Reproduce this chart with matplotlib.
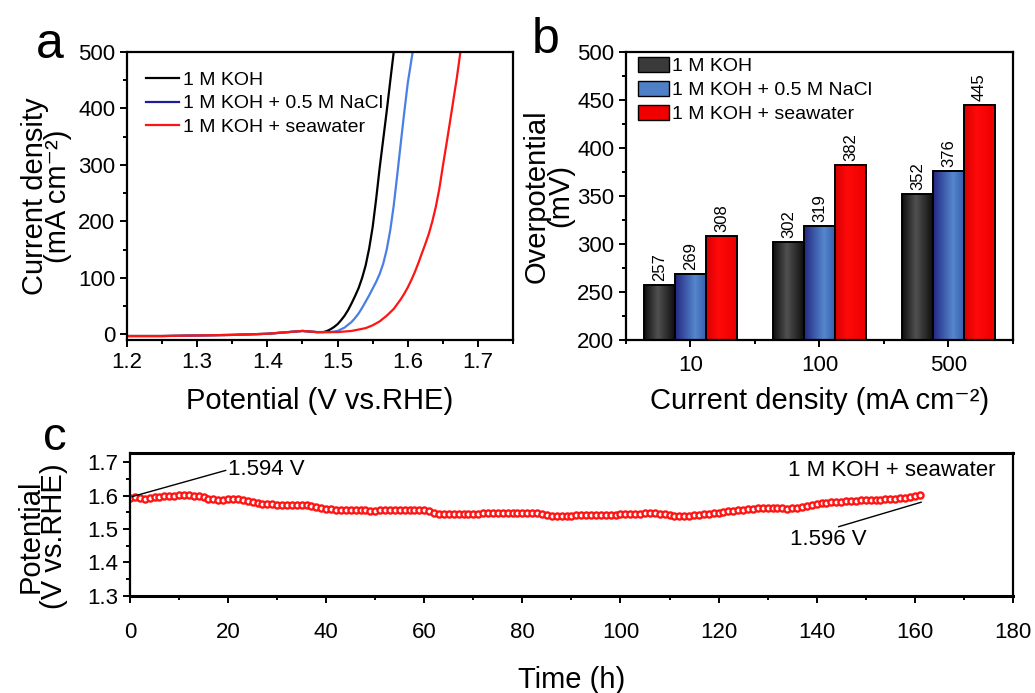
import numpy as np
import matplotlib.pyplot as plt
from matplotlib.lines import Line2D
from matplotlib.patches import Patch
from matplotlib.ticker import MultipleLocator

plt.rcParams['font.family'] = ['Liberation Sans', 'DejaVu Sans']

# ---- panel a: LSV curves ----
base_E = [1.20, 1.25, 1.30, 1.35, 1.40, 1.42, 1.44, 1.45, 1.46, 1.47, 1.48]
base_j = [-3, -3, -2, -1, 1, 3, 5, 6, 5, 4, 4]
koh_E = base_E + [1.485, 1.49, 1.495, 1.50, 1.505, 1.51, 1.515, 1.52, 1.525, 1.53,
                  1.535, 1.54, 1.545, 1.55, 1.555, 1.56, 1.565, 1.57, 1.575, 1.58]
koh_j = base_j + [6, 9, 13, 18, 25, 33, 43, 55, 68, 82,
                  100, 122, 152, 190, 240, 295, 345, 395, 448, 500]
nacl_E = base_E + [1.49, 1.495, 1.50, 1.505, 1.51, 1.515, 1.52, 1.525, 1.53, 1.535,
                   1.54, 1.545, 1.55, 1.555, 1.56, 1.565, 1.57, 1.575, 1.58, 1.585,
                   1.59, 1.595, 1.60, 1.607]
nacl_j = base_j + [4, 5, 6, 9, 12, 17, 22, 29, 37, 47,
                   58, 69, 81, 93, 107, 125, 150, 184, 228, 282,
                   338, 393, 445, 500]
sea_E = base_E + [1.50, 1.52, 1.54, 1.55, 1.56, 1.57, 1.58, 1.59, 1.595, 1.60,
                  1.605, 1.61, 1.615, 1.62, 1.625, 1.63, 1.635, 1.64, 1.645, 1.65,
                  1.655, 1.66, 1.665, 1.67, 1.675]
sea_j = base_j + [4, 6, 11, 16, 23, 33, 45, 62, 72, 83,
                  96, 110, 126, 143, 160, 178, 200, 226, 258, 298,
                  336, 375, 415, 455, 500]

# ---- panel b: overpotentials ----
densities = ['10', '100', '500']
eta_koh = [257, 302, 352]
eta_nacl = [269, 319, 376]
eta_sea = [308, 382, 445]

# ---- panel c: stability (one reading per hour) ----
stab_v = [
    1.594, 1.596, 1.593, 1.590, 1.592, 1.595, 1.597, 1.599, 1.600, 1.600,
    1.601, 1.601, 1.601, 1.600, 1.598, 1.595, 1.591, 1.589, 1.588, 1.588,
    1.589, 1.590, 1.590, 1.588, 1.584, 1.580, 1.578, 1.576, 1.575, 1.574,
    1.573, 1.573, 1.573, 1.573, 1.572, 1.572, 1.571, 1.569, 1.566, 1.563,
    1.561, 1.559, 1.558, 1.557, 1.557, 1.557, 1.557, 1.556, 1.556, 1.555,
    1.555, 1.556, 1.558, 1.558, 1.558, 1.558, 1.558, 1.558, 1.557, 1.557,
    1.556, 1.553, 1.549, 1.546, 1.545, 1.545, 1.545, 1.545, 1.545, 1.546,
    1.546, 1.546, 1.547, 1.547, 1.547, 1.548, 1.548, 1.548, 1.548, 1.548,
    1.548, 1.548, 1.548, 1.547, 1.545, 1.542, 1.540, 1.539, 1.539, 1.540,
    1.540, 1.541, 1.542, 1.543, 1.543, 1.543, 1.542, 1.542, 1.542, 1.543,
    1.544, 1.544, 1.545, 1.546, 1.546, 1.547, 1.547, 1.547, 1.546, 1.544,
    1.541, 1.540, 1.539, 1.539, 1.540, 1.541, 1.542, 1.544, 1.545, 1.547,
    1.549, 1.551, 1.553, 1.555, 1.557, 1.558, 1.560, 1.561, 1.562, 1.562,
    1.562, 1.562, 1.562, 1.562, 1.561, 1.562, 1.564, 1.567, 1.570, 1.573,
    1.576, 1.578, 1.579, 1.580, 1.581, 1.582, 1.583, 1.584, 1.585, 1.586,
    1.587, 1.587, 1.588, 1.588, 1.589, 1.590, 1.591, 1.592, 1.593, 1.595,
    1.598, 1.601,
]
stab_t = np.arange(len(stab_v))

RED = '#ff1414'
BLUE = '#4a7fe6'
TICK = 16
LABEL = 21

fig = plt.figure(figsize=(10.35, 6.93), dpi=100)
ax_a = fig.add_axes([0.1227, 0.5094, 0.373, 0.4156])
ax_b = fig.add_axes([0.6048, 0.5094, 0.3739, 0.4156])
ax_c = fig.add_axes([0.1256, 0.140, 0.853, 0.2063])

for ax in (ax_a, ax_b, ax_c):
    for s in ax.spines.values():
        s.set_linewidth(1.6)
    ax.tick_params(which='both', direction='out', width=1.4, top=False, right=False)
    ax.tick_params(which='major', length=5, labelsize=TICK)
    ax.tick_params(which='minor', length=3)

# a
ax_a.plot(koh_E, koh_j, color='black', lw=1.6)
ax_a.plot(nacl_E, nacl_j, color=BLUE, lw=1.6)
ax_a.plot(sea_E, sea_j, color=RED, lw=1.6)
ax_a.set_xlim(1.2, 1.75)
ax_a.set_ylim(-10, 500)
ax_a.xaxis.set_major_locator(MultipleLocator(0.1))
ax_a.xaxis.set_minor_locator(MultipleLocator(0.05))
ax_a.yaxis.set_major_locator(MultipleLocator(100))
ax_a.yaxis.set_minor_locator(MultipleLocator(50))
ax_a.set_xlabel('Potential (V vs.RHE)', fontsize=LABEL, labelpad=10)
ax_a.set_ylabel('Current density\n(mA cm⁻²)', fontsize=LABEL, linespacing=0.8, labelpad=4)
handles_a = [Line2D([], [], color='black', lw=1.6),
             Line2D([], [], color='#1c1c9c', lw=1.6),
             Line2D([], [], color=RED, lw=1.6)]
ax_a.legend(handles_a, ['1 M KOH', '1 M KOH + 0.5 M NaCl', '1 M KOH + seawater'],
            loc='upper left', frameon=False, fontsize=14, handlelength=1.7,
            handletextpad=0.2, labelspacing=0.3, borderaxespad=0.6)
fig.text(0.048, 0.935, 'a', fontsize=36, ha='center', va='center')


# b
def gradient(stops, n=64):
    pos = np.array([p for p, _ in stops])
    cols = np.array([c for _, c in stops], dtype=float) / 255
    xs = np.linspace(0, 1, n)
    rgb = np.stack([np.interp(xs, pos, cols[:, k]) for k in range(3)], axis=-1)
    return rgb[np.newaxis, :, :]


grad_black = gradient([(0, (15, 15, 15)), (0.45, (80, 80, 80)), (1, (15, 15, 15))])
grad_blue = gradient([(0, (35, 40, 130)), (0.65, (85, 135, 205)), (1, (55, 95, 175))])
grad_red = gradient([(0, (215, 0, 0)), (0.4, (255, 10, 10)), (1, (235, 0, 0))])

x = np.arange(len(densities))
w = 0.24
for off, vals, grad in ((-w, eta_koh, grad_black), (0, eta_nacl, grad_blue), (w, eta_sea, grad_red)):
    bars = ax_b.bar(x + off, vals, width=w, bottom=0, facecolor='none',
                    edgecolor='black', lw=1.4, zorder=3)
    for b, v in zip(bars, vals):
        x0 = b.get_x()
        ax_b.imshow(grad, extent=[x0, x0 + w, 200, v], aspect='auto', zorder=2,
                    interpolation='bilinear')
        ax_b.text(x0 + w / 2, v + 4, str(v), rotation=90, ha='center', va='bottom',
                  fontsize=12)
ax_b.set_xlim(-0.5, 2.5)
ax_b.set_ylim(200, 500)
ax_b.set_xticks(x)
ax_b.set_xticklabels(densities)
ax_b.xaxis.set_minor_locator(MultipleLocator(0.5))
ax_b.yaxis.set_major_locator(MultipleLocator(50))
ax_b.yaxis.set_minor_locator(MultipleLocator(25))
ax_b.tick_params(axis='x', which='major', pad=6)
ax_b.set_xlabel('Current density (mA cm⁻²)', fontsize=LABEL, labelpad=8)
ax_b.set_ylabel('Overpotential\n(mV)', fontsize=LABEL, linespacing=0.8, labelpad=2)
handles_b = [Patch(facecolor='#3a3a3a', edgecolor='black'),
             Patch(facecolor='#4f7fc4', edgecolor='black'),
             Patch(facecolor='#f00000', edgecolor='black')]
ax_b.legend(handles_b, ['1 M KOH', '1 M KOH + 0.5 M NaCl', '1 M KOH + seawater'],
            loc='upper left', frameon=False, fontsize=14, handlelength=1.6,
            handleheight=0.8, handletextpad=0.15, labelspacing=0.3,
            borderaxespad=0.0, bbox_to_anchor=(0.01, 1.01))
fig.text(0.527, 0.942, 'b', fontsize=36, ha='center', va='center')

# c
ax_c.plot(stab_t, stab_v, 'o', color=RED, mfc='white', mec=RED, ms=4.4, mew=1.7)
ax_c.set_xlim(0, 180)
ax_c.set_ylim(1.3, 1.727)
ax_c.xaxis.set_major_locator(MultipleLocator(20))
ax_c.xaxis.set_minor_locator(MultipleLocator(10))
ax_c.yaxis.set_major_locator(MultipleLocator(0.1))
ax_c.yaxis.set_minor_locator(MultipleLocator(0.05))
ax_c.yaxis.set_major_formatter(plt.FormatStrFormatter('%.1f'))
ax_c.tick_params(axis='x', which='major', pad=14)
ax_c.set_xlabel('Time (h)', fontsize=LABEL, labelpad=16)
ax_c.set_ylabel('Potential\n(V vs.RHE)', fontsize=LABEL, linespacing=0.8)
ax_c.yaxis.set_label_coords(-0.070, 0.42)
ax_c.spines['top'].set_linewidth(2.2)
ax_c.spines['bottom'].set_linewidth(2.2)
ax_c.plot([0.5, 19.5], [1.597, 1.675], color='black', lw=1)
ax_c.text(20, 1.678, '1.594 V', fontsize=16, ha='left', va='center')
ax_c.plot([161.3, 144.5], [1.580, 1.507], color='black', lw=1)
ax_c.text(134.5, 1.468, '1.596 V', fontsize=16, ha='left', va='center')
ax_c.text(176.5, 1.675, '1 M KOH + seawater', fontsize=16, ha='right', va='center')
fig.text(0.053, 0.368, 'c', fontsize=34, ha='center', va='center')

fig.savefig('out.png', dpi=100)
